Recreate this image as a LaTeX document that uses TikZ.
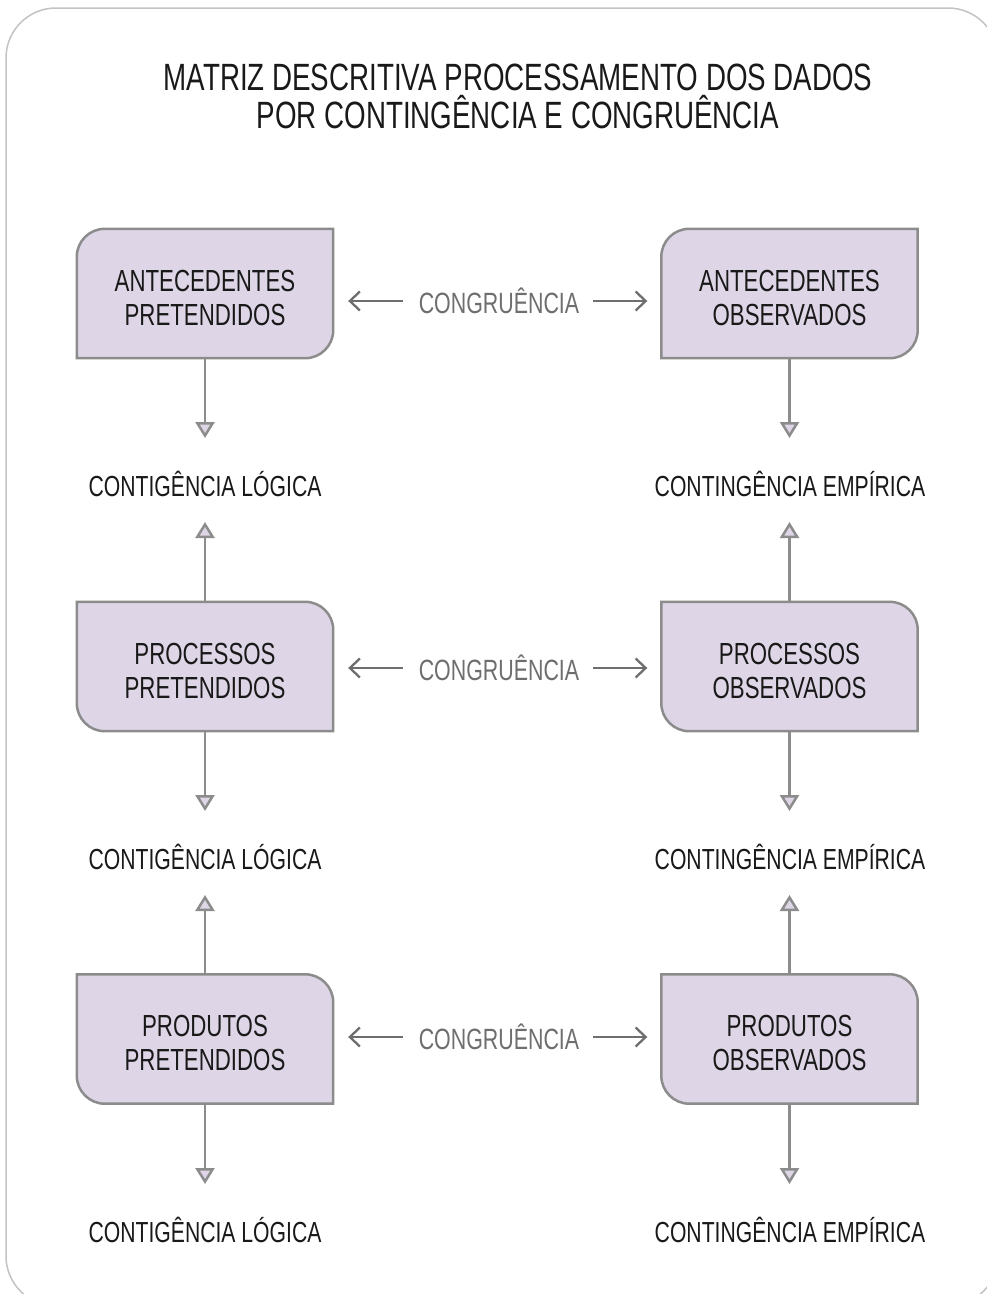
\documentclass[tikz,border=0pt]{standalone}
\usepackage{fontspec}
\setmainfont{Liberation Sans}[FakeStretch=0.73]
\usetikzlibrary{arrows.meta,backgrounds}
\definecolor{lav}{RGB}{222,214,231}
\definecolor{edgegrey}{RGB}{140,140,140}
\definecolor{framegrey}{RGB}{195,195,195}
\definecolor{ink}{RGB}{25,25,25}
\definecolor{congr}{RGB}{110,110,110}
\newcommand{\shapeTLBR}[1]{%
 \filldraw[boxline] (#1.south west) -- ([yshift=-28pt]#1.north west) arc[start angle=180,end angle=90,radius=28pt] -- (#1.north east) -- ([yshift=28pt]#1.south east) arc[start angle=0,end angle=-90,radius=28pt] -- cycle;}
\newcommand{\shapeTRBL}[1]{%
 \filldraw[boxline] ([yshift=28pt]#1.south west) -- (#1.north west) -- ([xshift=-28pt]#1.north east) arc[start angle=90,end angle=0,radius=28pt] -- (#1.south east) -- ([xshift=28pt]#1.south west) arc[start angle=270,end angle=180,radius=28pt] -- cycle;}
\tikzset{
 boxnode/.style={minimum width=256pt, minimum height=129pt, inner sep=0pt},
 boxtext/.style={inner sep=0pt, align=center, text=ink, font=\fontsize{30.5}{34}\selectfont},
 boxline/.style={fill=lav, draw=edgegrey, line width=2.5pt},
 lbl/.style={inner sep=0pt, text=ink, font=\fontsize{29}{34}\selectfont},
 congnode/.style={inner sep=0pt, text=congr, font=\fontsize{29.3}{34}\selectfont},
 varrow/.style={draw=edgegrey, line width=2.5pt, -{Triangle[length=16pt,width=19pt,fill=lav]}},
 harrow/.style={draw=congr, line width=2.3pt, -{Straight Barb[length=10pt,width=19pt]}},
 framebox/.style={draw=framegrey, line width=1.5pt, rounded corners=50pt},
}
\begin{document}
\begin{tikzpicture}[x=1pt,y=1pt]
\useasboundingbox (0,0) rectangle (986,-1294);

\node[inner sep=0pt, align=center, text=ink, font=\fontsize{38}{38}\selectfont] (title) at (518,-96) {MATRIZ DESCRITIVA PROCESSAMENTO DOS DADOS\\POR CONTINGÊNCIA E CONGRUÊNCIA};

% boxes
\node[boxnode] (ap) at (205,-293.5) {};
\node[boxnode] (ao) at (789.5,-293.5) {};
\node[boxnode] (pp) at (205,-666.5) {};
\node[boxnode] (po) at (789.5,-666.5) {};
\node[boxnode] (rp) at (205,-1039) {};
\node[boxnode] (ro) at (789.5,-1039) {};
\node[boxtext] (apt) at ([yshift=-4pt]ap.center) {ANTECEDENTES\\PRETENDIDOS};
\node[boxtext] (aot) at ([yshift=-4pt]ao.center) {ANTECEDENTES\\OBSERVADOS};
\node[boxtext] (ppt) at ([yshift=-4pt]pp.center) {PROCESSOS\\PRETENDIDOS};
\node[boxtext] (pot) at ([yshift=-4pt]po.center) {PROCESSOS\\OBSERVADOS};
\node[boxtext] (rpt) at ([yshift=-4pt]rp.center) {PRODUTOS\\PRETENDIDOS};
\node[boxtext] (rot) at ([yshift=-4pt]ro.center) {PRODUTOS\\OBSERVADOS};
\begin{pgfonlayer}{background}
\fill[white] (0,0) rectangle (986,-1294);
\draw[framebox] (6,-8) rectangle (998,-1306);
\shapeTLBR{ap}
\shapeTLBR{ao}
\shapeTRBL{pp}
\shapeTRBL{po}
\shapeTRBL{rp}
\shapeTRBL{ro}
\end{pgfonlayer}

% labels
\node[lbl] (l1) at (205,-484) {CONTIGÊNCIA LÓGICA};
\node[lbl] (e1) at (790,-484) {CONTINGÊNCIA EMPÍRICA};
\node[lbl] (l2) at (205,-857) {CONTIGÊNCIA LÓGICA};
\node[lbl] (e2) at (790,-857) {CONTINGÊNCIA EMPÍRICA};
\node[lbl] (l3) at (205,-1230) {CONTIGÊNCIA LÓGICA};
\node[lbl] (e3) at (790,-1230) {CONTINGÊNCIA EMPÍRICA};

% tips
\coordinate (d1) at (205,-438); \coordinate (f1) at (789.5,-438);
\coordinate (u1) at (205,-522); \coordinate (v1) at (789.5,-522);
\coordinate (d2) at (205,-811); \coordinate (f2) at (789.5,-811);
\coordinate (u2) at (205,-895); \coordinate (v2) at (789.5,-895);
\coordinate (d3) at (205,-1184); \coordinate (f3) at (789.5,-1184);

\draw[varrow] (ap.south) -- (d1);
\draw[varrow] (ao.south) -- (f1);
\draw[varrow] (pp.north) -- (u1);
\draw[varrow] (po.north) -- (v1);
\draw[varrow] (pp.south) -- (d2);
\draw[varrow] (po.south) -- (f2);
\draw[varrow] (rp.north) -- (u2);
\draw[varrow] (ro.north) -- (v2);
\draw[varrow] (rp.south) -- (d3);
\draw[varrow] (ro.south) -- (f3);

% congruencia
\node[congnode] (c1) at (499,-301) {CONGRUÊNCIA};
\node[congnode] (c2) at (499,-668) {CONGRUÊNCIA};
\node[congnode] (c3) at (499,-1037) {CONGRUÊNCIA};
\foreach \c/\l/\r in {c1/ap/ao, c2/pp/po, c3/rp/ro}{
 \coordinate (\c L) at ([xshift=-16pt]\c.west);
 \coordinate (\c R) at ([xshift=14pt]\c.east);
 \path (\c L -| \l.east) ++(15pt,0) coordinate (\c A);
 \path (\c R -| \r.west) ++(-14pt,0) coordinate (\c B);
 \draw[harrow] (\c L) -- (\c A);
 \draw[harrow] (\c R) -- (\c B);
}
\end{tikzpicture}
\end{document}
